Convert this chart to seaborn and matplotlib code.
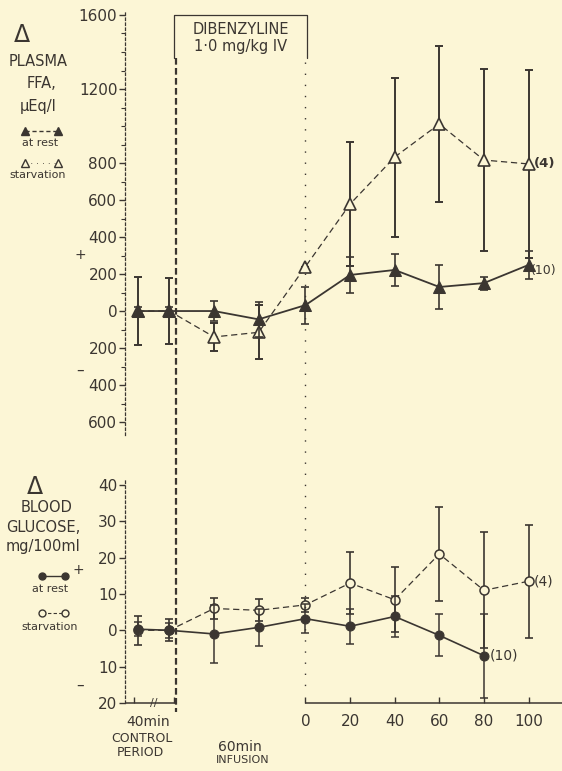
import numpy as np
import pandas as pd
import matplotlib
matplotlib.use("Agg")
import matplotlib.pyplot as plt
import matplotlib.transforms as mtransforms
from matplotlib.lines import Line2D
import seaborn as sns

# sampling times (min from end of infusion; 40 min control period drawn compressed)
times = [-75, -61, -41, -21, 0, 20, 40, 60, 80, 100]

# change in plasma FFA, uEq/l
ffa_rest = [0, 0, 0, -45, 32, 195, 222, 130, 151, 249]
ffa_rest_err = [20, 20, 55, 95, 100, 95, 85, 120, 35, 75]
ffa_starv = [0, 0, -140, -115, 240, 578, 832, 1011, 816, 795]
ffa_starv_err = [185, 180, 75, 145, 0, 335, 430, 420, 490, 510]

# change in blood glucose, mg/100ml
glu_rest = [0.3, 0, -1, 0.8, 3.2, 1.1, 3.8, -1.4, -7.0, np.nan]
glu_rest_err = [2, 2, 8, 5, 4, 4.8, 5.7, 5.8, 11.5, np.nan]
glu_starv = [0, 0, 6, 5.5, 7, 13, 8.4, 21, 11, 13.5]
glu_starv_err = [4, 3, 3, 3, 2, 8.5, 9, 13, 16, 15.5]

ffa_ticks = [1600, 1200, 800, 600, 400, 200, 0, -200, -400, -600]
glu_ticks = [40, 30, 20, 10, 0, -10, -20]
post_ticks = [0, 20, 40, 60, 80, 100]
ctrl_ticks = [-77, -59]
infusion_start = -58

paper = "#fcf6d6"
ink = "#3b3631"

sns.set_theme(style="white")
plt.rcParams['font.family'] = ['DejaVu Sans']

W, H = 562, 771
fig = plt.figure(figsize=(W / 100, H / 100), dpi=100, facecolor=paper)


def px(x, y):
    return x / W, 1 - y / H


ax1 = fig.add_axes([125 / W, 1 - 435 / H, 437 / W, 425 / H])
ax2 = fig.add_axes([125 / W, 1 - 703 / H, 437 / W, 225 / H], sharex=ax1)
xlim = (-80.9, 115.0)

ffa = pd.DataFrame({'t': times, 'rest': ffa_rest, 'starv': ffa_starv})
glu = pd.DataFrame({'t': times, 'rest': glu_rest, 'starv': glu_starv})

# FFA panel
ax1.errorbar(times, ffa_starv, yerr=ffa_starv_err, fmt='none', ecolor=ink,
             elinewidth=1.4, capsize=3, capthick=1.4)
sns.lineplot(data=ffa, x='t', y='starv', ax=ax1, color=ink, lw=0.9,
             linestyle=(0, (5, 3)), marker='^', markersize=9,
             markerfacecolor=paper, markeredgecolor=ink, markeredgewidth=1.2)
ax1.errorbar(times, ffa_rest, yerr=ffa_rest_err, fmt='none', ecolor=ink,
             elinewidth=1.2, capsize=3, capthick=1.2)
sns.lineplot(data=ffa, x='t', y='rest', ax=ax1, color=ink, lw=1.3,
             marker='^', markersize=8, markerfacecolor=ink, markeredgecolor=ink)
ax1.annotate('(4)', (times[-1], ffa_starv[-1]), xytext=(4, 0),
             textcoords='offset points', va='center', fontsize=9.5,
             color=ink, weight='bold')
ax1.annotate('(10)', (times[-1], ffa_rest[-1]), xytext=(2, -4),
             textcoords='offset points', va='center', fontsize=9,
             color=ink)

ax1.set_xlim(*xlim)
ax1.set_ylim(-670, 1627)
ax1.set_yticks(ffa_ticks)
ax1.set_yticklabels([str(abs(v)) for v in ffa_ticks])
ax1.set_yticks(np.arange(-600, 1601, 100), minor=True)
ax1.tick_params(axis='y', which='both', direction='out', color=ink,
                labelcolor=ink, labelsize=11, pad=1.5, left=True)
ax1.tick_params(axis='y', which='major', length=4, width=1)
ax1.tick_params(axis='y', which='minor', length=3, width=0.8)
ax1.tick_params(axis='x', which='both', bottom=False, labelbottom=False)
ax1.set_xlabel('')
ax1.set_ylabel('')

# glucose panel
ax2.errorbar(times, glu_starv, yerr=glu_starv_err, fmt='none', ecolor=ink,
             elinewidth=1.2, capsize=3, capthick=1.2)
sns.lineplot(data=glu, x='t', y='starv', ax=ax2, color=ink, lw=0.9,
             linestyle=(0, (5, 3)), marker='o', markersize=6.5,
             markerfacecolor=paper, markeredgecolor=ink, markeredgewidth=1.1)
ax2.errorbar(times, glu_rest, yerr=glu_rest_err, fmt='none', ecolor=ink,
             elinewidth=1.1, capsize=3, capthick=1.1)
sns.lineplot(data=glu, x='t', y='rest', ax=ax2, color=ink, lw=1.2,
             marker='o', markersize=6.5, markerfacecolor=ink,
             markeredgecolor=ink)
ax2.annotate('(4)', (times[-1], glu_starv[-1]), xytext=(4, 0),
             textcoords='offset points', va='center', fontsize=10, color=ink)
ax2.annotate('(10)', (times[-2], glu_rest[-2]), xytext=(4, 0),
             textcoords='offset points', va='center', fontsize=10, color=ink)

ax2.set_ylim(-20, 41.9)
ax2.set_yticks(glu_ticks)
ax2.set_yticklabels([str(abs(v)) for v in glu_ticks])
ax2.tick_params(axis='y', direction='out', length=4, width=1, color=ink,
                labelcolor=ink, labelsize=11, pad=1.5, left=True)
ax2.set_xticks(ctrl_ticks + post_ticks)
ax2.set_xticklabels([''] * len(ctrl_ticks) + [str(v) for v in post_ticks])
ax2.tick_params(axis='x', direction='in', length=4, width=1, color=ink,
                labelcolor=ink, labelsize=11, pad=8, bottom=True)
ax2.set_xlabel('')
ax2.set_ylabel('')
ax2.hlines(-20, xlim[0], infusion_start, color=ink, lw=1.1, clip_on=False)
ax2.hlines(-20, 0, xlim[1], color=ink, lw=1.1, clip_on=False)
ax2.text(-68, -20, '//', ha='center', va='center', fontsize=8, color=ink)

for ax in (ax1, ax2):
    ax.set_facecolor('none')
    for s in ('top', 'right', 'bottom'):
        ax.spines[s].set_visible(False)
    ax.spines['left'].set_color(ink)
    ax.spines['left'].set_linewidth(0.9)
    ax.spines['left'].set_linestyle((0, (2, 2)))
    ax.grid(False)

# infusion start / end reference lines and drug box
tr = mtransforms.blended_transform_factory(ax1.transData, fig.transFigure)
fig.add_artist(Line2D([infusion_start] * 2, [px(0, 58)[1], px(0, 712)[1]],
                      transform=tr, color=ink, lw=1.6,
                      linestyle=(0, (3, 1.5))))
fig.add_artist(Line2D([0, 0], [px(0, 62)[1], px(0, 690)[1]], transform=tr,
                      color=ink, lw=1.0, linestyle=(0, (1, 7))))
box_y = [px(0, 58)[1], px(0, 15)[1], px(0, 15)[1], px(0, 58)[1]]
fig.add_artist(Line2D([infusion_start - 1, infusion_start - 1, 0.5, 0.5], box_y,
                      transform=tr, color=ink, lw=0.9))
fig.text(*px(241, 29), 'DIBENZYLINE', ha='center', va='center', fontsize=10.5,
         color=ink)
fig.text(*px(241, 47), '1·0 mg/kg IV', ha='center', va='center', fontsize=10.5,
         color=ink)

# left hand labels and keys
def label(x, y, s, size=10.5, **kw):
    fig.text(*px(x, y), s, ha='center', va='center', fontsize=size,
             color=ink, **kw)


label(22, 35, 'Δ', 17)
label(38, 62, 'PLASMA')
label(42, 83, 'FFA,')
label(38, 107, 'µEq/l')
fig.add_artist(Line2D([px(25, 0)[0], px(58, 0)[0]], [px(0, 131)[1]] * 2,
                      color=ink, lw=1, linestyle=(0, (3, 2)), marker='^',
                      markersize=6, markerfacecolor=ink))
label(40, 143, 'at rest', 8)
fig.add_artist(Line2D([px(25, 0)[0], px(58, 0)[0]], [px(0, 163)[1]] * 2,
                      color=ink, lw=0.6, linestyle=(0, (1, 6)), marker='^',
                      markersize=6, markerfacecolor=paper))
label(38, 175, 'starvation', 8)
label(80, 255, '+', 10)
label(80, 370, '–', 11)

label(35, 487, 'Δ', 17)
label(47, 507, 'BLOOD')
label(43, 527, 'GLUCOSE,')
label(43, 547, 'mg/100ml')
fig.add_artist(Line2D([px(42, 0)[0], px(65, 0)[0]], [px(0, 576)[1]] * 2,
                      color=ink, lw=1, marker='o', markersize=5,
                      markerfacecolor=ink))
label(78, 570, '+', 10)
label(50, 589, 'at rest', 8)
fig.add_artist(Line2D([px(42, 0)[0], px(65, 0)[0]], [px(0, 613)[1]] * 2,
                      color=ink, lw=0.8, linestyle=(0, (3, 2)), marker='o',
                      markersize=5, markerfacecolor=paper))
label(50, 627, 'starvation', 8)
label(80, 685, '–', 11)

# period labels under the time axis
label(148, 722, '40min', 10)
label(142, 739, 'CONTROL', 9)
label(140, 752, 'PERIOD', 9)
label(240, 747, '60min', 10)
label(243, 760, 'INFUSION', 8)

fig.savefig('out.png', dpi=100, facecolor=paper)
